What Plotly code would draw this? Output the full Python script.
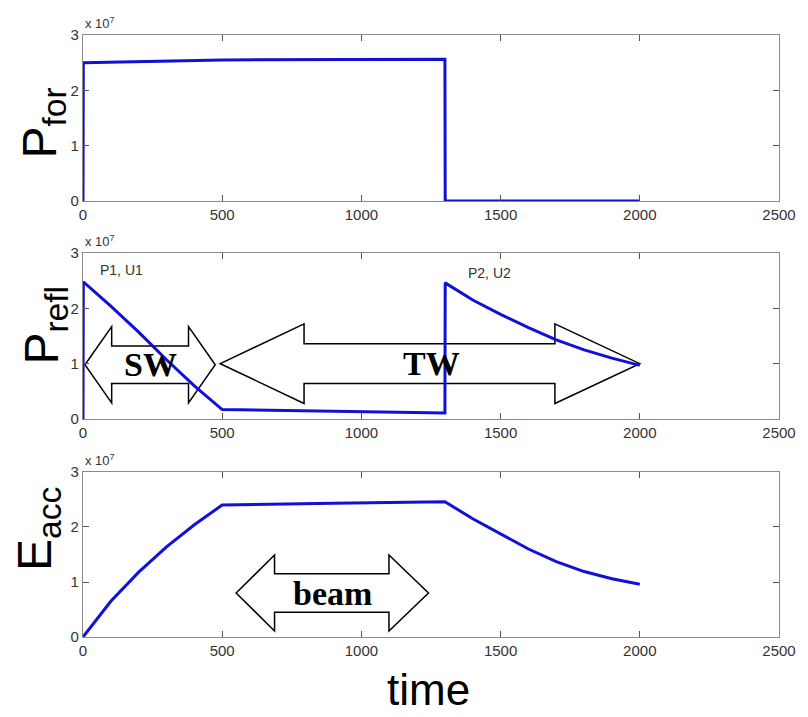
import plotly.graph_objects as go
from plotly.subplots import make_subplots

# time axis; values in units of 1e7
t_for = [0, 1, 500, 1300, 1301, 2000]
p_for = [0, 2.50, 2.55, 2.56, 0.0, 0.0]

t_refl = [0, 1, 100, 200, 300, 400, 500, 900, 1300, 1301, 1400, 1500, 1600, 1700, 1800, 1900, 2000]
p_refl = [0, 2.48, 2.04, 1.57, 1.07, 0.60, 0.17, 0.14, 0.11, 2.46, 2.15, 1.89, 1.65, 1.43, 1.25, 1.10, 0.97]

t_acc = [0, 100, 200, 300, 400, 500, 900, 1300, 1400, 1500, 1600, 1700, 1800, 1900, 2000]
e_acc = [0, 0.65, 1.18, 1.64, 2.04, 2.40, 2.43, 2.46, 2.15, 1.87, 1.60, 1.37, 1.19, 1.06, 0.96]

x_ticks = [0, 500, 1000, 1500, 2000, 2500]
y_ticks = [0, 1, 2, 3]

# double arrows: (row, x_tip_left, x_head_left, x_head_right, x_tip_right, y_center, head_half, shaft_half, label, label_x)
arrows = [
    (2, 7, 103, 379, 475, 0.98, 0.69, 0.34, "SW", 241),
    (2, 493, 794, 1695, 2000, 1.0, 0.72, 0.36, "TW", 1250),
    (3, 550, 688, 1099, 1241, 0.80, 0.69, 0.35, "beam", 895),
]

BLUE = "#1010d8"
fig = make_subplots(rows=3, cols=1, shared_xaxes=False, vertical_spacing=0.0)

fig.add_trace(go.Scatter(x=t_for, y=p_for, mode="lines", line=dict(color=BLUE, width=3)), row=1, col=1)
fig.add_trace(go.Scatter(x=t_refl, y=p_refl, mode="lines", line=dict(color=BLUE, width=3)), row=2, col=1)
fig.add_trace(go.Scatter(x=t_acc, y=e_acc, mode="lines", line=dict(color=BLUE, width=3)), row=3, col=1)

domains = [[0.7243, 1.0], [0.3621, 0.6379], [0.0, 0.2741]]
axcommon = dict(showgrid=False, zeroline=False, showline=True, linecolor="#8a8a8a", linewidth=1.2,
                mirror="ticks", ticks="inside", ticklen=6, tickcolor="#555",
                tickfont=dict(family="Liberation Sans", size=15, color="#333"))
for i in range(3):
    fig.update_xaxes(range=[0, 2500], tickvals=x_ticks, ticktext=[str(v) for v in x_ticks], row=i + 1, col=1, **axcommon)
    fig.update_yaxes(range=[0, 3], tickvals=y_ticks, ticktext=[str(v) for v in y_ticks], domain=domains[i], row=i + 1, col=1, **axcommon)

for row, x0, x1, x2, x3, yc, hh, sh, label, lx in arrows:
    xr = "x" if row == 1 else f"x{row}"
    yr = "y" if row == 1 else f"y{row}"
    path = (f"M {x0},{yc} L {x1},{yc+hh} L {x1},{yc+sh} L {x2},{yc+sh} L {x2},{yc+hh} "
            f"L {x3},{yc} L {x2},{yc-hh} L {x2},{yc-sh} L {x1},{yc-sh} L {x1},{yc-hh} Z")
    fig.add_shape(type="path", path=path, xref=xr, yref=yr, fillcolor="white",
                  line=dict(color="black", width=1.5), layer="below")
    fig.add_annotation(x=lx, y=yc, xref=xr, yref=yr, text=f"<b>{label}</b>",
                       showarrow=False, font=dict(family="Liberation Serif", size=34, color="black"),
                       xanchor="center", yanchor="middle")

fig.add_annotation(x=140, y=2.7, xref="x2", yref="y2", text="P1, U1", showarrow=False,
                   font=dict(family="Liberation Sans", size=14, color="#333"))
fig.add_annotation(x=1460, y=2.64, xref="x2", yref="y2", text="P2, U2", showarrow=False,
                   font=dict(family="Liberation Sans", size=14, color="#333"))

for i in range(3):
    yd = "y domain" if i == 0 else f"y{i+1} domain"
    fig.add_annotation(x=0, y=1, xref="paper", yref=yd, text="x 10<sup>7</sup>", showarrow=False,
                       xanchor="left", yanchor="bottom", yshift=2,
                       font=dict(family="Liberation Sans", size=13, color="#333"))

titles = [("P<sub>for</sub>", -0.058, 0.854), ("P<sub>refl</sub>", -0.054, 0.518), ("E<sub>acc</sub>", -0.065, 0.179)]
for txt, x, y in titles:
    fig.add_annotation(x=x, y=y, xref="paper", yref="paper", text=txt, textangle=-90, showarrow=False,
                       xanchor="center", yanchor="middle",
                       font=dict(family="Liberation Sans", size=48, color="black"))

fig.add_annotation(x=0.496, y=-0.087, xref="paper", yref="paper", text="time", showarrow=False,
                   xanchor="center", yanchor="middle", font=dict(family="Liberation Sans", size=44, color="black"))

fig.update_layout(width=808, height=717, margin=dict(l=83, r=20, t=35, b=80), showlegend=False,
                  paper_bgcolor="white", plot_bgcolor="white")
fig.write_html("out.html")
